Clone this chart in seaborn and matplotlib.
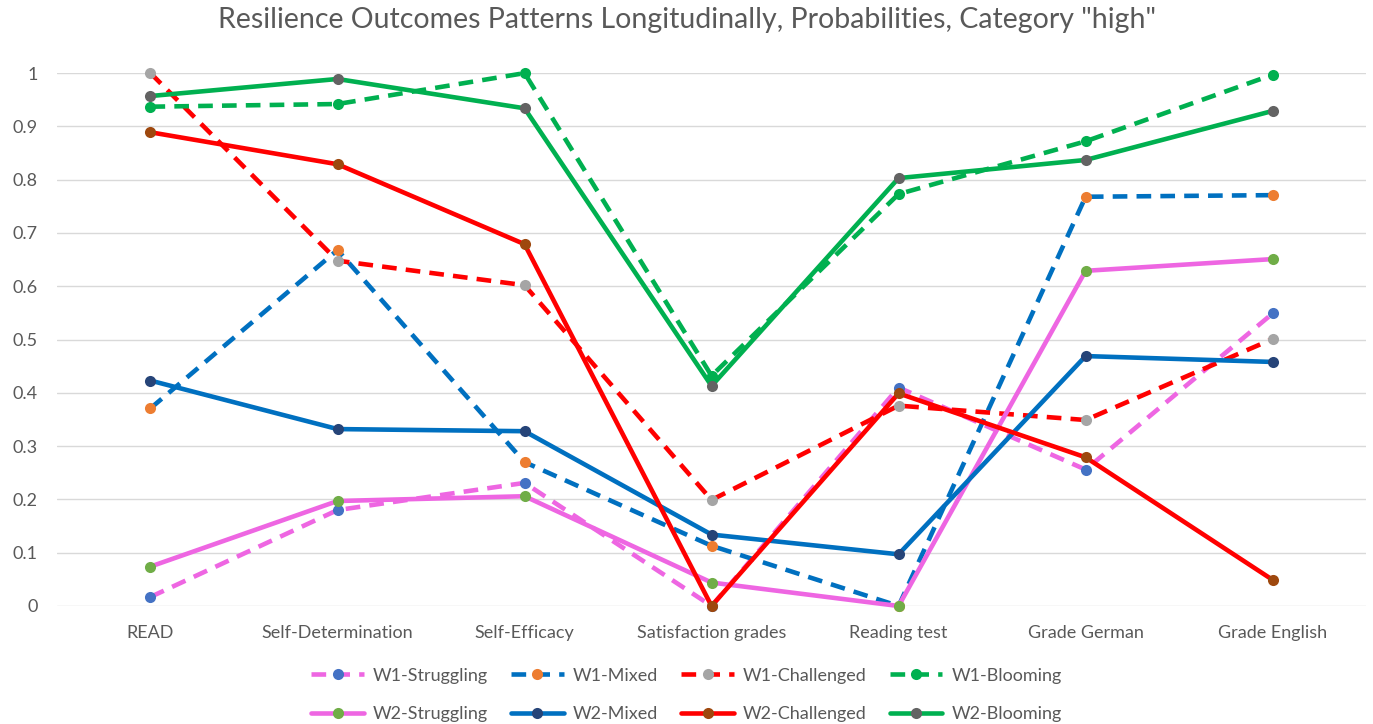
import numpy as np
import pandas as pd
import matplotlib
matplotlib.use('Agg')
import matplotlib.pyplot as plt
import seaborn as sns

# categories on the x axis
outcomes = ['READ', 'Self-Determination', 'Self-Efficacy', 'Satisfaction grades',
            'Reading test', 'Grade German', 'Grade English']

# probabilities
w1_struggling = [0.017, 0.180, 0.231, 0.000, 0.410, 0.256, 0.549]
w1_mixed = [0.371, 0.668, 0.270, 0.113, 0.000, 0.768, 0.771]
w1_challenged = [1.000, 0.648, 0.602, 0.199, 0.376, 0.349, 0.501]
w1_blooming = [0.937, 0.942, 1.000, 0.432, 0.773, 0.872, 0.997]
w2_struggling = [0.074, 0.197, 0.206, 0.044, 0.000, 0.629, 0.651]
w2_mixed = [0.423, 0.332, 0.328, 0.134, 0.097, 0.469, 0.458]
w2_challenged = [0.889, 0.829, 0.679, 0.000, 0.399, 0.279, 0.049]
w2_blooming = [0.957, 0.989, 0.934, 0.413, 0.803, 0.837, 0.929]

# name, values, line colour, marker colour, dashed?
series = [
    ('W1-Struggling', w1_struggling, '#EE66E2', '#4472C4', True),
    ('W1-Mixed', w1_mixed, '#0070C0', '#ED7D31', True),
    ('W1-Challenged', w1_challenged, '#FF0000', '#A5A5A5', True),
    ('W1-Blooming', w1_blooming, '#00B050', '#00B050', True),
    ('W2-Struggling', w2_struggling, '#EE66E2', '#70AD47', False),
    ('W2-Mixed', w2_mixed, '#0070C0', '#264478', False),
    ('W2-Challenged', w2_challenged, '#FF0000', '#9E480E', False),
    ('W2-Blooming', w2_blooming, '#00B050', '#636363', False),
]

sns.set_style('white')
plt.rcParams['font.family'] = ['Lato', 'DejaVu Sans']

fig = plt.figure(figsize=(13.73, 7.24), dpi=100)
ax = fig.add_axes([0.0415, 0.163, 0.9535, 0.736])

for i, (name, vals, lc, mc, dashed) in enumerate(series):
    df = pd.DataFrame({'outcome': outcomes, 'p': vals})
    sns.lineplot(data=df, x='outcome', y='p', ax=ax, sort=False,
                 color=lc, linewidth=3.3, marker='o', markersize=8,
                 markerfacecolor=mc, markeredgecolor=mc, markeredgewidth=0,
                 dashes=(3.2, 2.0) if dashed else '', clip_on=False,
                 zorder=3 + i, label=name)

ax.set_xlim(-0.5, 6.5)
ax.set_ylim(0, 1)
ax.set_yticks(np.arange(0, 1.01, 0.1))
ax.set_yticklabels(['0', '0.1', '0.2', '0.3', '0.4', '0.5', '0.6', '0.7', '0.8', '0.9', '1'])
ax.yaxis.grid(True, color='#D9D9D9', linewidth=1)
ax.set_axisbelow(True)
for s in ax.spines.values():
    s.set_visible(False)
ax.tick_params(axis='both', length=0, labelsize=13, labelcolor='#595959', pad=14)
ax.tick_params(axis='x', pad=14)
ax.set_xlabel('')
ax.set_ylabel('')

fig.suptitle('Resilience Outcomes Patterns Longitudinally, Probabilities, Category "high"',
             fontsize=20.5, color='#595959', y=0.99)

h, l = ax.get_legend_handles_labels()
if ax.get_legend():
    ax.get_legend().remove()
order = [0, 4, 1, 5, 2, 6, 3, 7]
fig.legend([h[k] for k in order], [l[k] for k in order], loc='lower center',
           bbox_to_anchor=(0.5, -0.02), ncol=4, frameon=False, fontsize=13,
           labelcolor='#595959', handlelength=2.9, columnspacing=1.3,
           handletextpad=0.5, labelspacing=1.25)

fig.savefig('out.png', dpi=100)
